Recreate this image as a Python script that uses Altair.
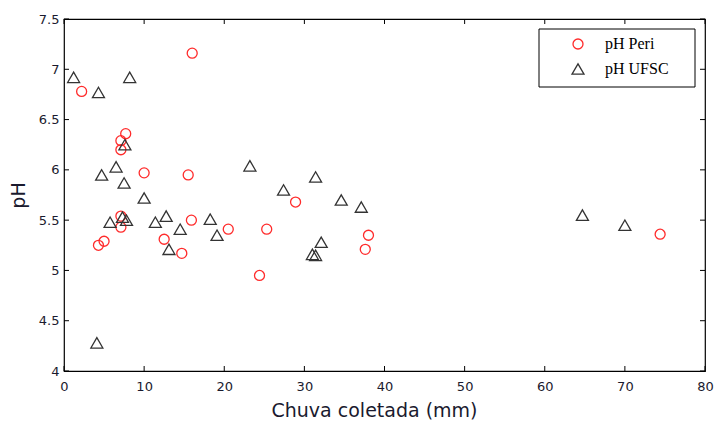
import altair as alt
import pandas as pd

peri_x = [2.2, 16.0, 7.7, 7.1, 7.1, 10.0, 15.5, 28.9, 7.1, 7.1, 4.3, 5.0, 12.5, 14.7, 15.9, 20.5, 24.4, 25.3, 38.0, 37.6, 74.4]
peri_y = [6.78, 7.16, 6.36, 6.29, 6.20, 5.97, 5.95, 5.68, 5.54, 5.43, 5.25, 5.29, 5.31, 5.17, 5.50, 5.41, 4.95, 5.41, 5.35, 5.21, 5.36]

ufsc_x = [1.2, 4.3, 8.2, 7.6, 4.7, 6.5, 7.5, 23.2, 27.4, 10.0, 5.75, 7.3, 7.8, 11.4, 12.75, 14.5, 13.1, 18.25, 19.1, 4.1, 31.4, 34.6, 37.1, 32.1, 31.0, 31.4, 64.7, 70.0]
ufsc_y = [6.92, 6.77, 6.92, 6.25, 5.95, 6.03, 5.87, 6.04, 5.80, 5.72, 5.48, 5.53, 5.50, 5.48, 5.54, 5.41, 5.21, 5.51, 5.35, 4.28, 5.93, 5.70, 5.63, 5.28, 5.16, 5.15, 5.55, 5.45]

series = ["pH Peri", "pH UFSC"]
x_ticks = [0, 10, 20, 30, 40, 50, 60, 70, 80]
y_ticks = [4, 4.5, 5, 5.5, 6, 6.5, 7, 7.5]

W, H = 641, 352

df = pd.DataFrame({
    "x": peri_x + ufsc_x,
    "y": peri_y + ufsc_y,
    "serie": [series[0]] * len(peri_x) + [series[1]] * len(ufsc_x),
})
xt = pd.DataFrame({"x": x_ticks})
yt = pd.DataFrame({"y": y_ticks})

xscale = alt.Scale(domain=[0, 80], nice=False, zero=False)
yscale = alt.Scale(domain=[4, 7.5], nice=False, zero=False)

box = alt.Chart(alt.Data(values=[{}])).mark_rect(
    fill="white", stroke="black", strokeWidth=1
).encode(x=alt.value(475), x2=alt.value(631), y=alt.value(10), y2=alt.value(68))

points = alt.Chart(df).mark_point(filled=False, strokeWidth=1.3, opacity=1).encode(
    x=alt.X("x:Q", scale=xscale, axis=alt.Axis(
        values=x_ticks, title="Chuva coletada (mm)", format="d", labelFlush=False,
        titleX=310, titleY=39, titleBaseline="middle")),
    y=alt.Y("y:Q", scale=yscale, axis=alt.Axis(
        values=y_ticks, title="pH", format="~g", labelFlush=False,
        titleX=-46, titleY=H / 2, titleBaseline="middle")),
    color=alt.Color("serie:N", scale=alt.Scale(domain=series, range=["#ff2b2b", "#333333"]), title=None),
    shape=alt.Shape("serie:N", scale=alt.Scale(domain=series, range=["circle", "triangle-up"]), title=None),
    size=alt.Size("serie:N", scale=alt.Scale(domain=series, range=[100, 144]), title=None),
)

tb = alt.Chart(xt).mark_rule(color="black").encode(
    x=alt.X("x:Q", scale=xscale), y=alt.value(H), y2=alt.value(H - 5))
tt = alt.Chart(xt).mark_rule(color="black").encode(
    x=alt.X("x:Q", scale=xscale), y=alt.value(0), y2=alt.value(5))
tl = alt.Chart(yt).mark_rule(color="black").encode(
    y=alt.Y("y:Q", scale=yscale), x=alt.value(0), x2=alt.value(5))
tr = alt.Chart(yt).mark_rule(color="black").encode(
    y=alt.Y("y:Q", scale=yscale), x=alt.value(W), x2=alt.value(W - 5))

chart = alt.layer(box, tb, tt, tl, tr, points).properties(
    width=W, height=H,
    autosize=alt.AutoSizeParams(type="none"),
    padding={"left": 64, "top": 19, "right": 9, "bottom": 51},
).configure_view(
    stroke="black", strokeWidth=1.2
).configure_axis(
    domain=False, ticks=False, grid=False,
    labelFont="DejaVu Sans", labelFontSize=13, labelColor="#1a1a2e",
    titleFont="DejaVu Sans", titleFontSize=19, titleFontWeight="normal", titleColor="#1a1a2e",
).configure_axisX(labelPadding=9).configure_axisY(labelPadding=5).configure_legend(
    orient="none", legendX=506, legendY=17, padding=0,
    labelFont="Liberation Serif", labelFontSize=16, labelColor="black",
    labelOffset=19, rowPadding=9, symbolStrokeWidth=1.3,
)

chart.save("out.html", embed_options={"renderer": "svg", "actions": False})
